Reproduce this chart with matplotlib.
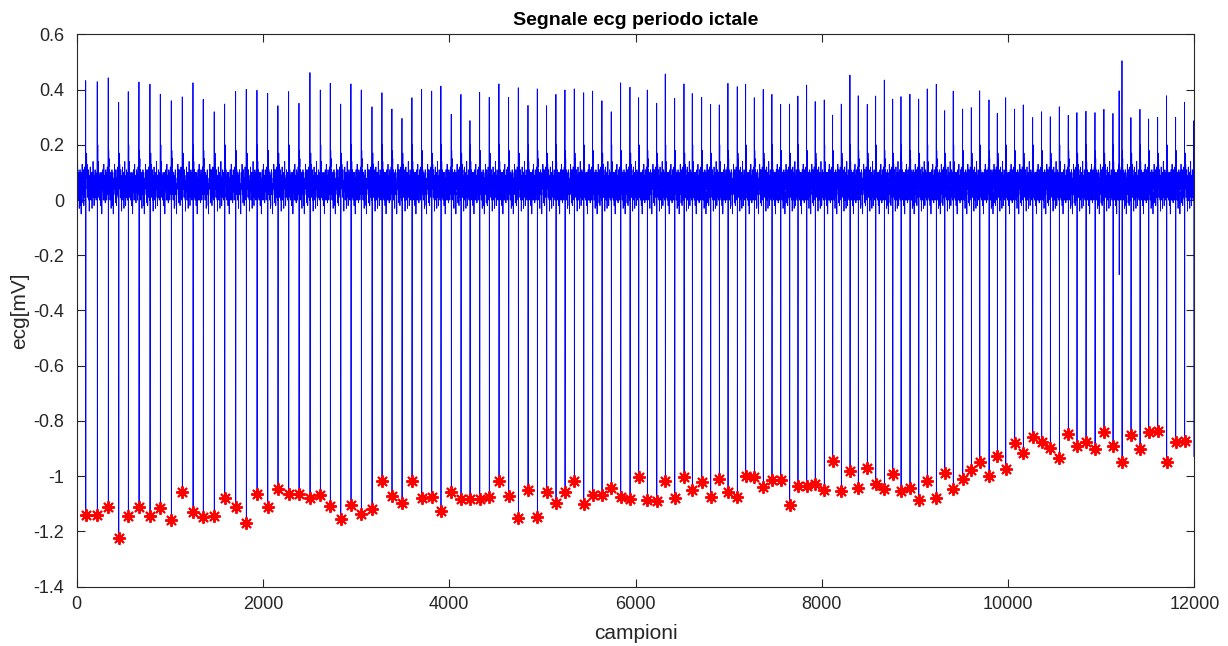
import numpy as np
import matplotlib
matplotlib.use("Agg")
import matplotlib.pyplot as plt
from matplotlib.ticker import FuncFormatter

# ---- data ----
# detected R-wave (negative) peaks: sample index and amplitude [mV]
peak_pos = [97, 221, 339, 451, 554, 669, 787, 898, 1016, 1134, 1249, 1359, 1477, 1589, 1707, 1821, 1936, 2051,
            2161, 2276, 2387, 2505, 2616, 2723, 2835, 2945, 3056, 3171, 3278, 3385, 3493, 3600, 3704, 3812, 3911, 4022,
            4126, 4223, 4327, 4430, 4534, 4638, 4742, 4846, 4946, 5046, 5146, 5243, 5343, 5444, 5540, 5640, 5740, 5841, 5941, 6034,
            6127, 6228, 6320, 6421, 6521, 6610, 6711, 6807, 6900, 6993, 7093, 7183, 7276, 7372, 7465, 7559, 7655, 7744, 7838, 7930, 8027, 8117,
            8210, 8303, 8392, 8489, 8579, 8672, 8762, 8851, 8947, 9041, 9133, 9230, 9320, 9412, 9513, 9606, 9696, 9796, 9885, 9975, 10071, 10164,
            10265, 10361, 10454, 10551, 10647, 10740, 10837, 10934, 11030, 11127, 11224, 11320, 11417, 11510, 11607, 11703, 11800, 11896]
peak_min = [-1.142, -1.142, -1.113, -1.226, -1.145, -1.111, -1.145, -1.115, -1.159, -1.059, -1.130, -1.149, -1.146, -1.081, -1.111, -1.171, -1.066, -1.111,
            -1.047, -1.065, -1.066, -1.079, -1.069, -1.109, -1.155, -1.104, -1.137, -1.121, -1.018, -1.071, -1.098, -1.016, -1.081, -1.075, -1.128, -1.058,
            -1.084, -1.082, -1.082, -1.075, -1.019, -1.071, -1.153, -1.051, -1.149, -1.057, -1.099, -1.057, -1.018, -1.100, -1.068, -1.070, -1.042, -1.076, -1.084, -1.002,
            -1.087, -1.089, -1.018, -1.081, -1.002, -1.051, -1.022, -1.075, -1.010, -1.059, -1.076, -0.999, -1.002, -1.041, -1.014, -1.014, -1.105, -1.036, -1.036, -1.030, -1.051, -0.946,
            -1.053, -0.983, -1.043, -0.972, -1.027, -1.047, -0.994, -1.053, -1.043, -1.087, -1.018, -1.079, -0.988, -1.045, -1.010, -0.979, -0.948, -0.999, -0.926, -0.976, -0.879, -0.916,
            -0.860, -0.876, -0.897, -0.934, -0.848, -0.890, -0.876, -0.902, -0.839, -0.891, -0.948, -0.850, -0.902, -0.842, -0.836, -0.948, -0.878, -0.872]
# positive spike heights of each beat [mV]
peak_max = [0.433, 0.429, 0.443, 0.354, 0.393, 0.428, 0.420, 0.384, 0.360, 0.374, 0.425, 0.365, 0.320, 0.348, 0.394, 0.401, 0.398, 0.387,
            0.342, 0.393, 0.351, 0.462, 0.399, 0.423, 0.348, 0.421, 0.399, 0.338, 0.389, 0.330, 0.296, 0.371, 0.401, 0.395, 0.413, 0.311,
            0.383, 0.288, 0.391, 0.372, 0.421, 0.372, 0.407, 0.343, 0.403, 0.342, 0.383, 0.399, 0.403, 0.389, 0.395, 0.360, 0.320, 0.425, 0.409, 0.371,
            0.399, 0.351, 0.457, 0.369, 0.421, 0.386, 0.372, 0.347, 0.345, 0.423, 0.411, 0.420, 0.371, 0.401, 0.383, 0.347, 0.348, 0.377, 0.417, 0.357, 0.363, 0.308,
            0.348, 0.453, 0.378, 0.347, 0.377, 0.435, 0.366, 0.375, 0.384, 0.366, 0.403, 0.420, 0.324, 0.395, 0.330, 0.335, 0.396, 0.363, 0.314, 0.371, 0.330, 0.345,
            0.299, 0.320, 0.302, 0.338, 0.307, 0.317, 0.322, 0.317, 0.329, 0.314, 0.505, 0.299, 0.329, 0.294, 0.300, 0.378, 0.300, 0.355]
# beats at the edges of the recording (not marked)
edge_pos = [2, 11998]
edge_max = [0.363, 0.288]
edge_min = [-0.95, -0.93]
# artifact just before beat at 11224
artifact_pos = 11192
artifact_vals = [0.396, -0.27]

# baseline morphology between beats (hand-read templates)
tmpl_a = [0.10, 0.18, 0.12, 0.15, 0.07, 0.11, 0.02, 0.07, 0.00, 0.06, 0.04, 0.10, 0.01, 0.06, -0.03, 0.04, 0.02, 0.09,
          0.05, 0.11, 0.06, 0.10, 0.02, 0.06, -0.02, 0.03, -0.05, 0.02, 0.02, 0.08, 0.04, 0.10, 0.07, 0.13, 0.06, 0.11,
          0.02, 0.06, -0.01, 0.05, 0.05, 0.11, 0.04, 0.08, -0.02, 0.04, 0.01, 0.07, 0.05, 0.12, 0.07, 0.11, 0.02, 0.07, 0.00, 0.05]
tmpl_b = [0.08, 0.15, 0.09, 0.17, 0.08, 0.13, 0.04, 0.08, 0.01, 0.05, 0.06, 0.11, 0.02, 0.07, 0.00, 0.05, -0.04, 0.03,
          0.03, 0.09, 0.05, 0.12, 0.04, 0.08, 0.00, 0.04, 0.04, 0.10, 0.01, 0.06, -0.03, 0.04, 0.05, 0.10, 0.06, 0.14,
          0.04, 0.08, 0.01, 0.06, -0.02, 0.04, 0.04, 0.09, 0.05, 0.11, 0.01, 0.06, 0.03, 0.10, 0.00, 0.05, 0.05, 0.09, 0.01, 0.06]
tmpl_c = [0.11, 0.20, 0.08, 0.14, 0.05, 0.11, 0.01, 0.06, 0.04, 0.09, 0.00, 0.05, 0.05, 0.10, 0.03, 0.07, -0.02, 0.04,
          0.04, 0.10, 0.02, 0.06, -0.05, 0.02, 0.03, 0.08, 0.05, 0.11, 0.04, 0.08, 0.00, 0.05, 0.06, 0.13, 0.04, 0.09,
          0.00, 0.05, 0.03, 0.09, -0.01, 0.03, 0.05, 0.11, 0.03, 0.07, 0.04, 0.10, 0.00, 0.06, 0.06, 0.12, 0.02, 0.06, 0.03, 0.07]

N = 12000

# ---- assemble the trace ----
beats = [(edge_pos[0], edge_max[0], edge_min[0])] + list(zip(peak_pos, peak_max, peak_min)) + \
        [(edge_pos[1], edge_max[1], edge_min[1])]
sig = np.full(N + 1, 0.05)
templates = [tmpl_a, tmpl_b, tmpl_c]
for k, (p, mx, mn) in enumerate(beats):
    sig[p - 1] = mx
    sig[p] = mn
    if k + 1 < len(beats):
        q = beats[k + 1][0]
        T = templates[k % 3]
        L = q - 2 - (p + 1)
        for j in range(L):
            sig[p + 1 + j] = T[j * len(T) // L]
sig[artifact_pos] = artifact_vals[0]
sig[artifact_pos + 1] = artifact_vals[1]
x = np.arange(1, N + 1)
y = sig[1:N + 1]
y[-1] = edge_min[1]
y[-2] = edge_max[1]

# ---- plot ----
plt.rcParams['font.family'] = ['Liberation Sans', 'DejaVu Sans']
fig = plt.figure(figsize=(12.28, 6.46), dpi=100)
ax = fig.add_axes([0.0625, 0.0921, 0.9101, 0.8545])
ax.plot(x, y, color=(0, 0, 1), lw=0.6)
ax.plot(peak_pos, peak_min, linestyle='none', marker=(8, 2, 0), color='red',
        markersize=9, markeredgewidth=1.4)

ax.set_xlim(0, 12000)
ax.set_ylim(-1.4, 0.6)
ax.set_xticks(np.arange(0, 12001, 2000))
ax.set_yticks(np.round(np.arange(-1.4, 0.61, 0.2), 1))
ax.yaxis.set_major_formatter(FuncFormatter(lambda v, _: '%g' % (round(v, 1) + 0.0)))
ax.tick_params(direction='in', top=True, right=True, labelsize=13, colors='#262626', length=6, width=0.8)
ax.tick_params(axis='y', pad=9)
ax.tick_params(axis='x', pad=7)
for s in ax.spines.values():
    s.set_color('#262626')
    s.set_linewidth(0.8)
ax.set_title('Segnale ecg periodo ictale', fontsize=14, fontweight='bold', pad=7)
ax.set_xlabel('campioni', fontsize=15, color='#262626', labelpad=8)
ax.set_ylabel('ecg[mV]', fontsize=15, color='#262626', labelpad=3)

fig.savefig('out.png', dpi=100)
